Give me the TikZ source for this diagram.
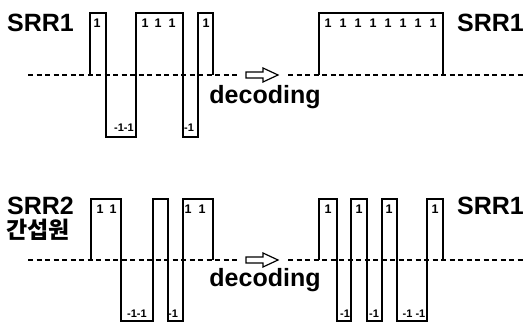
\documentclass[tikz,border=0pt]{standalone}
\usepackage{fontspec}
\setmainfont{Liberation Sans}
\newfontfamily\kr{Noto Sans CJK KR}
\begin{document}
\begin{tikzpicture}[x=1pt,y=-1pt,
  wave/.style={line width=1.7pt,line join=miter},
  base/.style={line width=1.6pt,dash pattern=on 5pt off 3.5pt},
  big/.style={inner sep=0pt,font=\fontsize{25}{25}\selectfont\bfseries},
  one/.style={inner sep=0pt,font=\fontsize{12.5}{12.5}\selectfont\bfseries},
  neg/.style={inner sep=0pt,font=\fontsize{11}{11}\selectfont\bfseries},
  harrow/.style={line width=1.2pt,fill=white,line join=miter}]
\useasboundingbox (0,0) rectangle (523,323);
% baselines
\draw[base] (28,75) -- (240,75);
\draw[base] (288,75) -- (523,75);
\draw[base] (28,260) -- (240,260);
\draw[base] (288,260) -- (523,260);
% top-left waveform
\draw[wave] (90,75) -- (90,13) -- (106,13) -- (106,137) -- (136,137) -- (136,13) -- (183,13) -- (183,137) -- (198,137) -- (198,13) -- (213,13) -- (213,75);
% top-right waveform
\draw[wave] (319,75) -- (319,13) -- (443,13) -- (443,75);
% bottom-left waveform
\draw[wave] (91,260) -- (91,199) -- (121,199) -- (121,321) -- (153,321) -- (153,199) -- (168,199) -- (168,321) -- (183,321) -- (183,199) -- (213,199) -- (213,260);
% bottom-right waveform
\draw[wave] (319,260) -- (319,199) -- (337,199) -- (337,321) -- (351,321) -- (351,199) -- (367,199) -- (367,321) -- (382,321) -- (382,199) -- (397,199) -- (397,321) -- (427,321) -- (427,199) -- (443,199) -- (443,260);
% hollow arrows
\draw[harrow] (246,72) -- (263,72) -- (263,68) -- (278,75) -- (263,82) -- (263,78) -- (246,78) -- cycle;
\draw[harrow] (246,257) -- (263,257) -- (263,253) -- (278,260) -- (263,267) -- (263,263) -- (246,263) -- cycle;
% titles
\node[big,anchor=base west] (t1) at (7,32) {SRR1};
\node[big,anchor=base west] (t2) at (457,32) {SRR1};
\node[big,anchor=base west] (t3) at (7,215) {SRR2};
\node[inner sep=0pt,anchor=west,font=\kr\bfseries\fontsize{23}{23}\selectfont] (t4) at (6,230) {간섭원};
\node[big,anchor=base west] (t5) at (457,215) {SRR1};
\node[big,anchor=base] (d1) at (265,104) {decoding};
\node[big,anchor=base] (d2) at (265,287) {decoding};
% top-left labels
\node[one] (a1) at (97,23) {1};
\node[one] (a2) at (145,23) {1};
\node[one] (a3) at (158,23) {1};
\node[one] (a4) at (172,23) {1};
\node[one] (a5) at (206,23) {1};
\node[neg] (a6) at (124,128) {-1-1};
\node[neg] (a7) at (189,128) {-1};
% top-right labels
\foreach \i in {0,...,7} {\node[one] (b\i) at (328+15*\i,23) {1};}
% bottom-left labels
\node[one] (c1) at (100,209) {1};
\node[one] (c2) at (113,209) {1};
\node[one] (c3) at (188,209) {1};
\node[one] (c4) at (202,209) {1};
\node[neg] (c5) at (137,314) {-1-1};
\node[neg] (c6) at (173,314) {-1};
% bottom-right labels
\node[one] (e1) at (328,209) {1};
\node[one] (e2) at (359,209) {1};
\node[one] (e3) at (389,209) {1};
\node[one] (e4) at (435,209) {1};
\node[neg] (e5) at (345,314) {-1};
\node[neg] (e6) at (374,314) {-1};
\node[neg] (e7) at (414,314) {-1 -1};
\end{tikzpicture}
\end{document}
